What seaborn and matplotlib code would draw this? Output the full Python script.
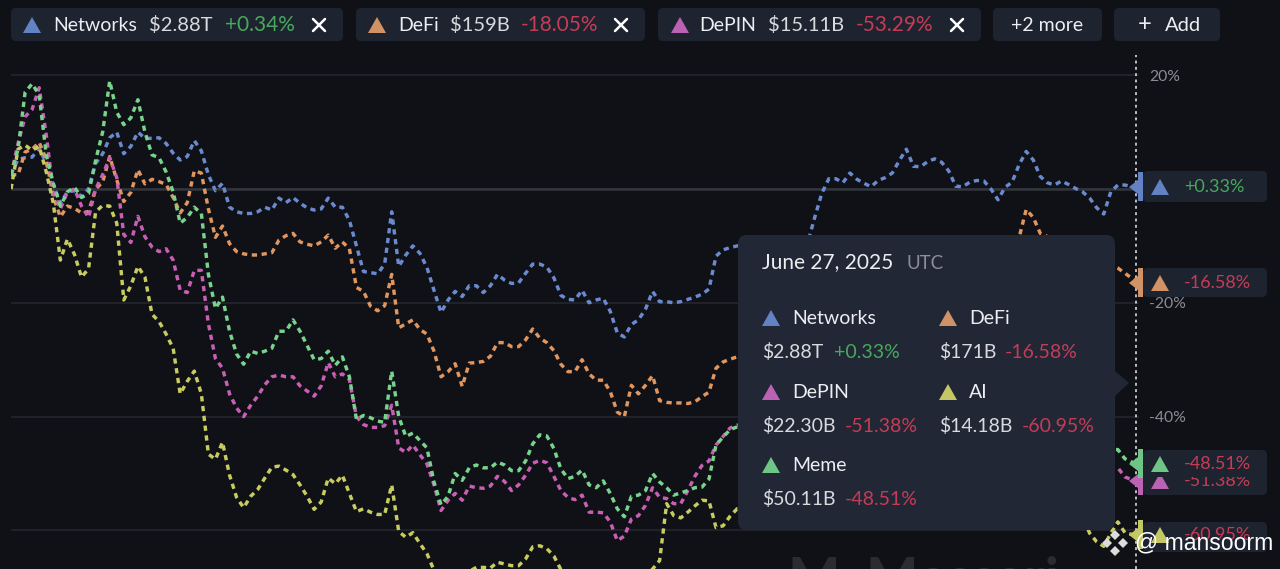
import numpy as np
import pandas as pd
import seaborn as sns
import matplotlib
matplotlib.use("Agg")
import matplotlib.pyplot as plt
from matplotlib.patches import FancyBboxPatch, Polygon

# ------------------------------- data (% change, one value per day) -------
H = np.nan  # hidden behind the tooltip
networks = [
    2.5, 5.2, 5.5, 5.6, 7.2, 4.5, 0.8, -2.5, -0.5, -0.3,
    -1.3, 0, 4.5, 6.2, 9, 10, 6.2, 7.5, 10, 8.9,
    8.9, 9, 8, 6.3, 5.1, 5.7, 8.5, 6.7, 2.5, -0.3,
    1, -3.2, -4, -4.3, -4.3, -4, -3.2, -3.7, -1.6, -2.4,
    -1.5, -2.5, -3.3, -3.7, -3.5, -1.6, -3.2, -3.2, -5.5, -10,
    -14.5, -14.7, -14.9, -13.2, -4, -13.6, -11.6, -10, -11.3, -13.8,
    -17.8, -21.7, -19.5, -18, -18.9, -17, -17, -18.2, -17, -15,
    -16, -16.6, -16.5, -14.8, -13.2, -13.2, -13.7, -15.6, -18.7, -19.4,
    -19.5, -17.8, -20, -19.5, -19.2, -21.5, -25.3, -26, -23.8, -23,
    -21.1, -18, -19.8, -19.8, -20, -19.8, -19.4, -19, -18.5, -17.6,
    -11.8, -10.7, -10.3, -10, H, H, H, H, H, H,
    H, H, H, -9.5, -5, -0.8, 1.8, 1.8, 1.1, 2.8,
    1.7, 1, 0.4, 1.5, 2, 2.8, 5, 7, 4, 3.9,
    4.8, 5.3, 4.7, 3.2, 0.5, 0.4, 1.2, 1.5, 1.4, 0,
    -1.9, 0.3, 1.2, 4.3, 6.6, 5.1, 2.2, 1.1, 0.7, 1.4,
    0.8, 0.1, -0.5, -1.6, -3.3, -4.4, -0.5, 0.7, 0.7, 0.4,
    0.33]
defi = [
    2.5, 2.5, 6.5, 7, 8.2, 5.2, -1.4, -4.9, -3, -3.4,
    -4.2, -4, 0, 1.2, 5.7, 1.6, -2.2, -0.6, 3.4, 0.9,
    1.7, 1.3, 0.8, -1.5, -4.2, -2.4, 3.2, 2.8, -3.5, -8.5,
    -6.5, -9.6, -11, -11.4, -11.6, -11.6, -11.4, -11.2, -9, -8.2,
    -7.8, -9.3, -9.7, -10, -9.3, -8.1, -10.4, -9.3, -10.5, -17.3,
    -18, -20.6, -21.4, -20.5, -15, -24.4, -23.7, -23, -24.7, -25.5,
    -28.5, -33, -32.1, -30.7, -34.7, -30.6, -30.5, -30.3, -29.4, -27,
    -27, -27.7, -27.7, -26.5, -24.6, -26.2, -27, -28.4, -30.8, -32.1,
    -32.1, -30, -32.5, -33.6, -33.6, -35.6, -39.2, -40, -34.5, -36,
    -34.5, -32.8, -37.2, -37.5, -37.6, -37.6, -37.7, -37.4, -36.5, -35.7,
    -31.5, -30.4, -29.9, -29.5, H, H, H, H, H, H,
    H, H, H, H, H, H, H, H, H, H,
    H, H, H, H, H, H, H, H, H, H,
    H, H, H, H, H, H, H, H, H, H,
    H, H, H, -8.5, -3.6, -5, -7.8, H, H, H,
    H, H, H, H, H, H, H, -13.9, -14.8, -15.7,
    -16.58]
depin = [
    2.5, 8, 12.7, 14, 17.8, 9.5, -0.5, -3.5, -0.5, 0,
    -3, -5, 0, 2.5, 5.5, 2, -8, -9.4, -4.8, -8.4,
    -10.2, -11, -10.5, -12.5, -17.8, -18.2, -14.3, -14.3, -23.7, -29.8,
    -31.5, -36, -38.5, -40, -38, -36.4, -34.4, -33, -32.7, -33,
    -33, -34.6, -35.5, -36.4, -34.6, -30.5, -33, -32.5, -33.5, -40,
    -41.4, -41.9, -41.9, -41.6, -38, -45.5, -46.3, -45, -46.7, -48.3,
    -52, -56.5, -54.7, -53.5, -54.7, -52.2, -52.5, -52.6, -52.2, -50.5,
    -51.4, -53, -52, -50.3, -48.2, -47.7, -48.1, -50.5, -53, -54.2,
    -54.6, -53.8, -56.8, -56.8, -56.9, -58.5, -61.8, -61, -58, -57.4,
    -55.6, -52.5, -54.2, -54.4, -55.3, -55.3, -53, -50.5, -48.6, -47.8,
    -45, -43.5, -42, -41.5] + [H] * 53 + [-49, -50.6, -51.1, -51.38]
ai = [
    0, 7, 7.7, 6.8, 7.5, 3, -2.5, -12.5, -8.8, -11.5,
    -15.5, -14, -4, -2.9, -3, -6, -19.5, -17, -13.6, -15.5,
    -22, -23.3, -25.5, -28, -36, -33.8, -32, -36, -46.6, -47.5,
    -44.5, -50.3, -54.2, -56, -54, -52.8, -50.8, -48.9, -48.7, -49.4,
    -50.2, -52, -54, -56.3, -55, -50.8, -51.8, -50.3, -53.5, -56.7,
    -56.2, -56.8, -57.2, -57.2, -52, -60.2, -61.2, -60.4, -62.3, -64.1,
    -67, -68.5, -69.5, -69, -68, -67.2, -66.5, -66.5, -66.6, -65.6,
    -65.9, -66.2, -66.2, -65, -62.9, -62.7, -63.2, -64.5, -66.9, -68,
    -69, -69, -70, -71, -71, -71, -72, -72, -71, -69,
    -68, -66.8, -65.3, -55.3, -57.4, -57.8, -56.8, -55.7, -54.7, -54.8,
    -59.5, -59.2, -57.5, -56.2] + [H] * 48 + [
    -57.5, -60.5, -62, -62.8, -60.5, -58.5, -60.4, -60.7, -60.95]
meme = [
    2.5, 7, 17, 18.5, 16.5, 6, 1, -3, -0.5, 0.3,
    -1.5, -0.8, 5, 10, 19, 13.5, 11.3, 12.5, 15.7, 10,
    6, 5.5, 3, -0.5, -6, -5, -3.2, -4.3, -15, -21,
    -19, -25, -29, -30.8, -28.5, -28.9, -28.5, -28, -25, -25,
    -23, -25, -27.5, -30, -29.8, -28.5, -31, -29.5, -33, -40.5,
    -39.8, -40.2, -40.8, -41, -32, -40, -43.5, -42.9, -44.2, -45.5,
    -51.5, -55.5, -54, -50, -51.2, -49, -48.5, -49, -49, -48,
    -48.5, -49.5, -49.5, -47.8, -44.8, -43.2, -43.4, -45.6, -49.2, -50.9,
    -50.5, -49.4, -52, -52.5, -51.3, -53.5, -56.2, -57.6, -54, -53.8,
    -53, -50, -51.5, -52.5, -53.8, -53.4, -53, -52.5, -52.4, -51,
    -45, -43.6, -42.3, -41.8] + [H] * 53 + [-45.8, -47.4, -48, -48.51]

y_ticks = [20, 0, -20, -40, -60]
y_tick_labels = ["20%", "", "-20%", "-40%", ""]

series_names = ["Networks", "DeFi", "DePIN", "AI", "Meme"]
line_colors = ["#6a8ad0", "#e0965e", "#c95fb5", "#c8cc60", "#78d48c"]
tri_colors = {"Networks": "#6282c4", "DeFi": "#d19366", "DePIN": "#bb62b2",
              "AI": "#c4c864", "Meme": "#6fc585"}

top_chips = [("Networks", "$2.88T", "+0.34%"), ("DeFi", "$159B", "-18.05%"),
             ("DePIN", "$15.11B", "-53.29%")]
tip_rows = [("Networks", "$2.88T", "+0.33%"), ("DeFi", "$171B", "-16.58%"),
            ("DePIN", "$22.30B", "-51.38%"), ("AI", "$14.18B", "-60.95%"),
            ("Meme", "$50.11B", "-48.51%")]

# ------------------------------- look ------------------------------------
BG, CHIP, TIP = "#101116", "#1e2330", "#222736"
WHITE, GREY, GREEN, RED = "#eceef2", "#8b8d94", "#47a95c", "#c53c56"
sns.set_theme(style="dark", rc={"axes.facecolor": BG, "figure.facecolor": BG})
plt.rcParams["font.family"] = ["Lato", "DejaVu Sans"]

fig = plt.figure(figsize=(12.8, 5.69), dpi=100)
ax = fig.add_axes([11 / 1280, 0, 1128 / 1280, 1])

rows = pd.DataFrame({n: v for n, v in zip(series_names,
                                          [networks, defi, depin, ai, meme])})
rows["day"] = np.arange(len(rows))
long = rows.melt(id_vars="day", var_name="series", value_name="change").dropna()

sns.lineplot(data=long, x="day", y="change", hue="series", style="series",
             hue_order=series_names, style_order=series_names,
             palette=dict(zip(series_names, line_colors)),
             dashes={n: (1.55, 1.35) for n in series_names},
             linewidth=2.45, estimator=None, sort=False, legend=False, ax=ax,
             zorder=3)

ax.set_xlim(0, 160)
ax.set_ylim((189 - 569) / 5.69, 189 / 5.69)
ax.set_xticks([])
ax.set_xlabel("")
ax.set_ylabel("")
ax.set_yticks(y_ticks)
ax.set_yticklabels(y_tick_labels)
ax.yaxis.tick_right()
ax.tick_params(axis="y", length=0, pad=7.5, labelsize=11.3, labelcolor=GREY)
ax.grid(axis="y", color="#25272f", lw=1.1)
ax.grid(axis="x", visible=False)
ax.set_axisbelow(True)
ax.axhline(0, color="#33353e", lw=1.8, zorder=1)
for s in ax.spines.values():
    s.set_visible(False)
ax.axvline(159.6, ymax=1 - 55 / 569, color="#c9cbd0", lw=1.3, ls=(0, (1.6, 1.9)),
           zorder=2)

# ------------------------------- interface overlay in pixel units --------
ov = fig.add_axes([0, 0, 1, 1], zorder=5)
ov.set_xlim(0, 1280)
ov.set_ylim(569, 0)
ov.axis("off")
ov.patch.set_alpha(0)


def box(x0, y0, x1, y1, color, r=5, z=2):
    ov.add_patch(FancyBboxPatch((x0, y0), x1 - x0, y1 - y0,
                                boxstyle=f"round,pad=0,rounding_size={r}",
                                fc=color, ec="none", zorder=z))


def tri(cx, cy, color, z=3, w=9, h=8):
    ov.add_patch(Polygon([(cx - w, cy + h), (cx + w, cy + h), (cx, cy - h)],
                         closed=True, fc=color, ec="none", zorder=z))


def label(x, y, s, color=WHITE, size=14, z=4, ha="left", **kw):
    ov.text(x, y, s, color=color, fontsize=size, ha=ha, va="center", zorder=z, **kw)


def pct_color(s):
    return GREEN if s.startswith("+") else RED


# faint logo beneath the tooltip
label(787, 581, "M", color="#2b2c31", size=40, z=1, fontweight="bold")
label(866, 581, "Messari", color="#2b2c31", size=40, z=1, fontweight="bold")

# top bar
chip_x = [(11, 343, 32, 53, 149, 225, 319), (356, 645, 377, 398, 450, 521, 621),
          (658, 981, 680, 699, 768, 856, 957)]
for (n, v, p), (x0, x1, xt, xn, xv, xp, xc) in zip(top_chips, chip_x):
    box(x0, 8, x1, 41, CHIP)
    tri(xt, 25, tri_colors[n])
    label(xn, 25, n)
    label(xv, 25, v, color="#d8dade", size=14.5)
    label(xp, 25, p, color=pct_color(p), size=15)
    for sx in (-1, 1):
        ov.plot([xc - 6, xc + 6], [25 - 6 * sx, 25 + 6 * sx], color="white", lw=1.8,
                zorder=4, solid_capstyle="round")
box(993, 8, 1102, 41, CHIP)
label(1047.5, 25, "+2 more", ha="center")
box(1114, 8, 1220, 41, CHIP)
label(1145, 24, "+", ha="center", size=17)
label(1165, 25, "Add", size=14.5)

# tooltip
box(738, 235, 1115, 530, TIP, r=9, z=6)
ov.add_patch(Polygon([(1115, 371), (1129, 383), (1115, 396)], closed=True, fc=TIP,
                     ec="none", zorder=6))
label(762, 262, "June 27, 2025", z=7, size=15)
label(906, 263, "UTC", color="#8b8f9a", z=7, size=13.5)
tip_pos = [(762, 318, 834), (939, 318, 1005), (762, 392, 845), (939, 392, 1022),
           (762, 465, 845)]
for (n, v, p), (x, y, xp) in zip(tip_rows, tip_pos):
    tri(x + 9, y, tri_colors[n], z=7)
    label(x + 30, y + 0.5, n, z=7)
    label(x, y + 34, v, color="#d8dade", z=7)
    label(xp, y + 34, p, color=pct_color(p), z=7)

# end-of-line tags
tags = [("Networks", "+0.33%", 187, 171, 202), ("DeFi", "-16.58%", 283, 268, 297),
        ("DePIN", "-51.38%", 481, 468, 495), ("AI", "-60.95%", 535, 522, 552),
        ("Meme", "-48.51%", 464, 450, 477)]
for n, p, yc, y0, y1 in tags:
    z = 8 if n == "Meme" else 7
    box(1143, y0, 1267, y1, CHIP, r=5, z=z)
    ov.add_patch(Polygon([(1143, yc - 15), (1143, yc + 14), (1138, yc + 14),
                          (1138, yc + 7), (1129, yc), (1138, yc - 7), (1138, yc - 15)],
                         closed=True, fc=tri_colors[n], ec="none", zorder=z))
    tri(1160, yc, tri_colors[n], z=z + 0.1)
    label(1184, yc, p, color=pct_color(p), size=13, z=z + 0.1)

# watermark
for dx, dy in [(-8, 0), (8, 0), (0, -8), (0, 8)]:
    ov.add_patch(Polygon([(1115 + dx - 5, 543 + dy), (1115 + dx, 543 + dy - 5),
                          (1115 + dx + 5, 543 + dy), (1115 + dx, 543 + dy + 5)],
                         closed=True, fc="#dcdcdc", ec="none", zorder=9))
ov.text(1135, 543, "@ mansoorm", color="white", fontsize=16.6, ha="left", va="center",
        family=["Liberation Sans"], zorder=9)

fig.savefig("out.png", dpi=100, facecolor=BG)
